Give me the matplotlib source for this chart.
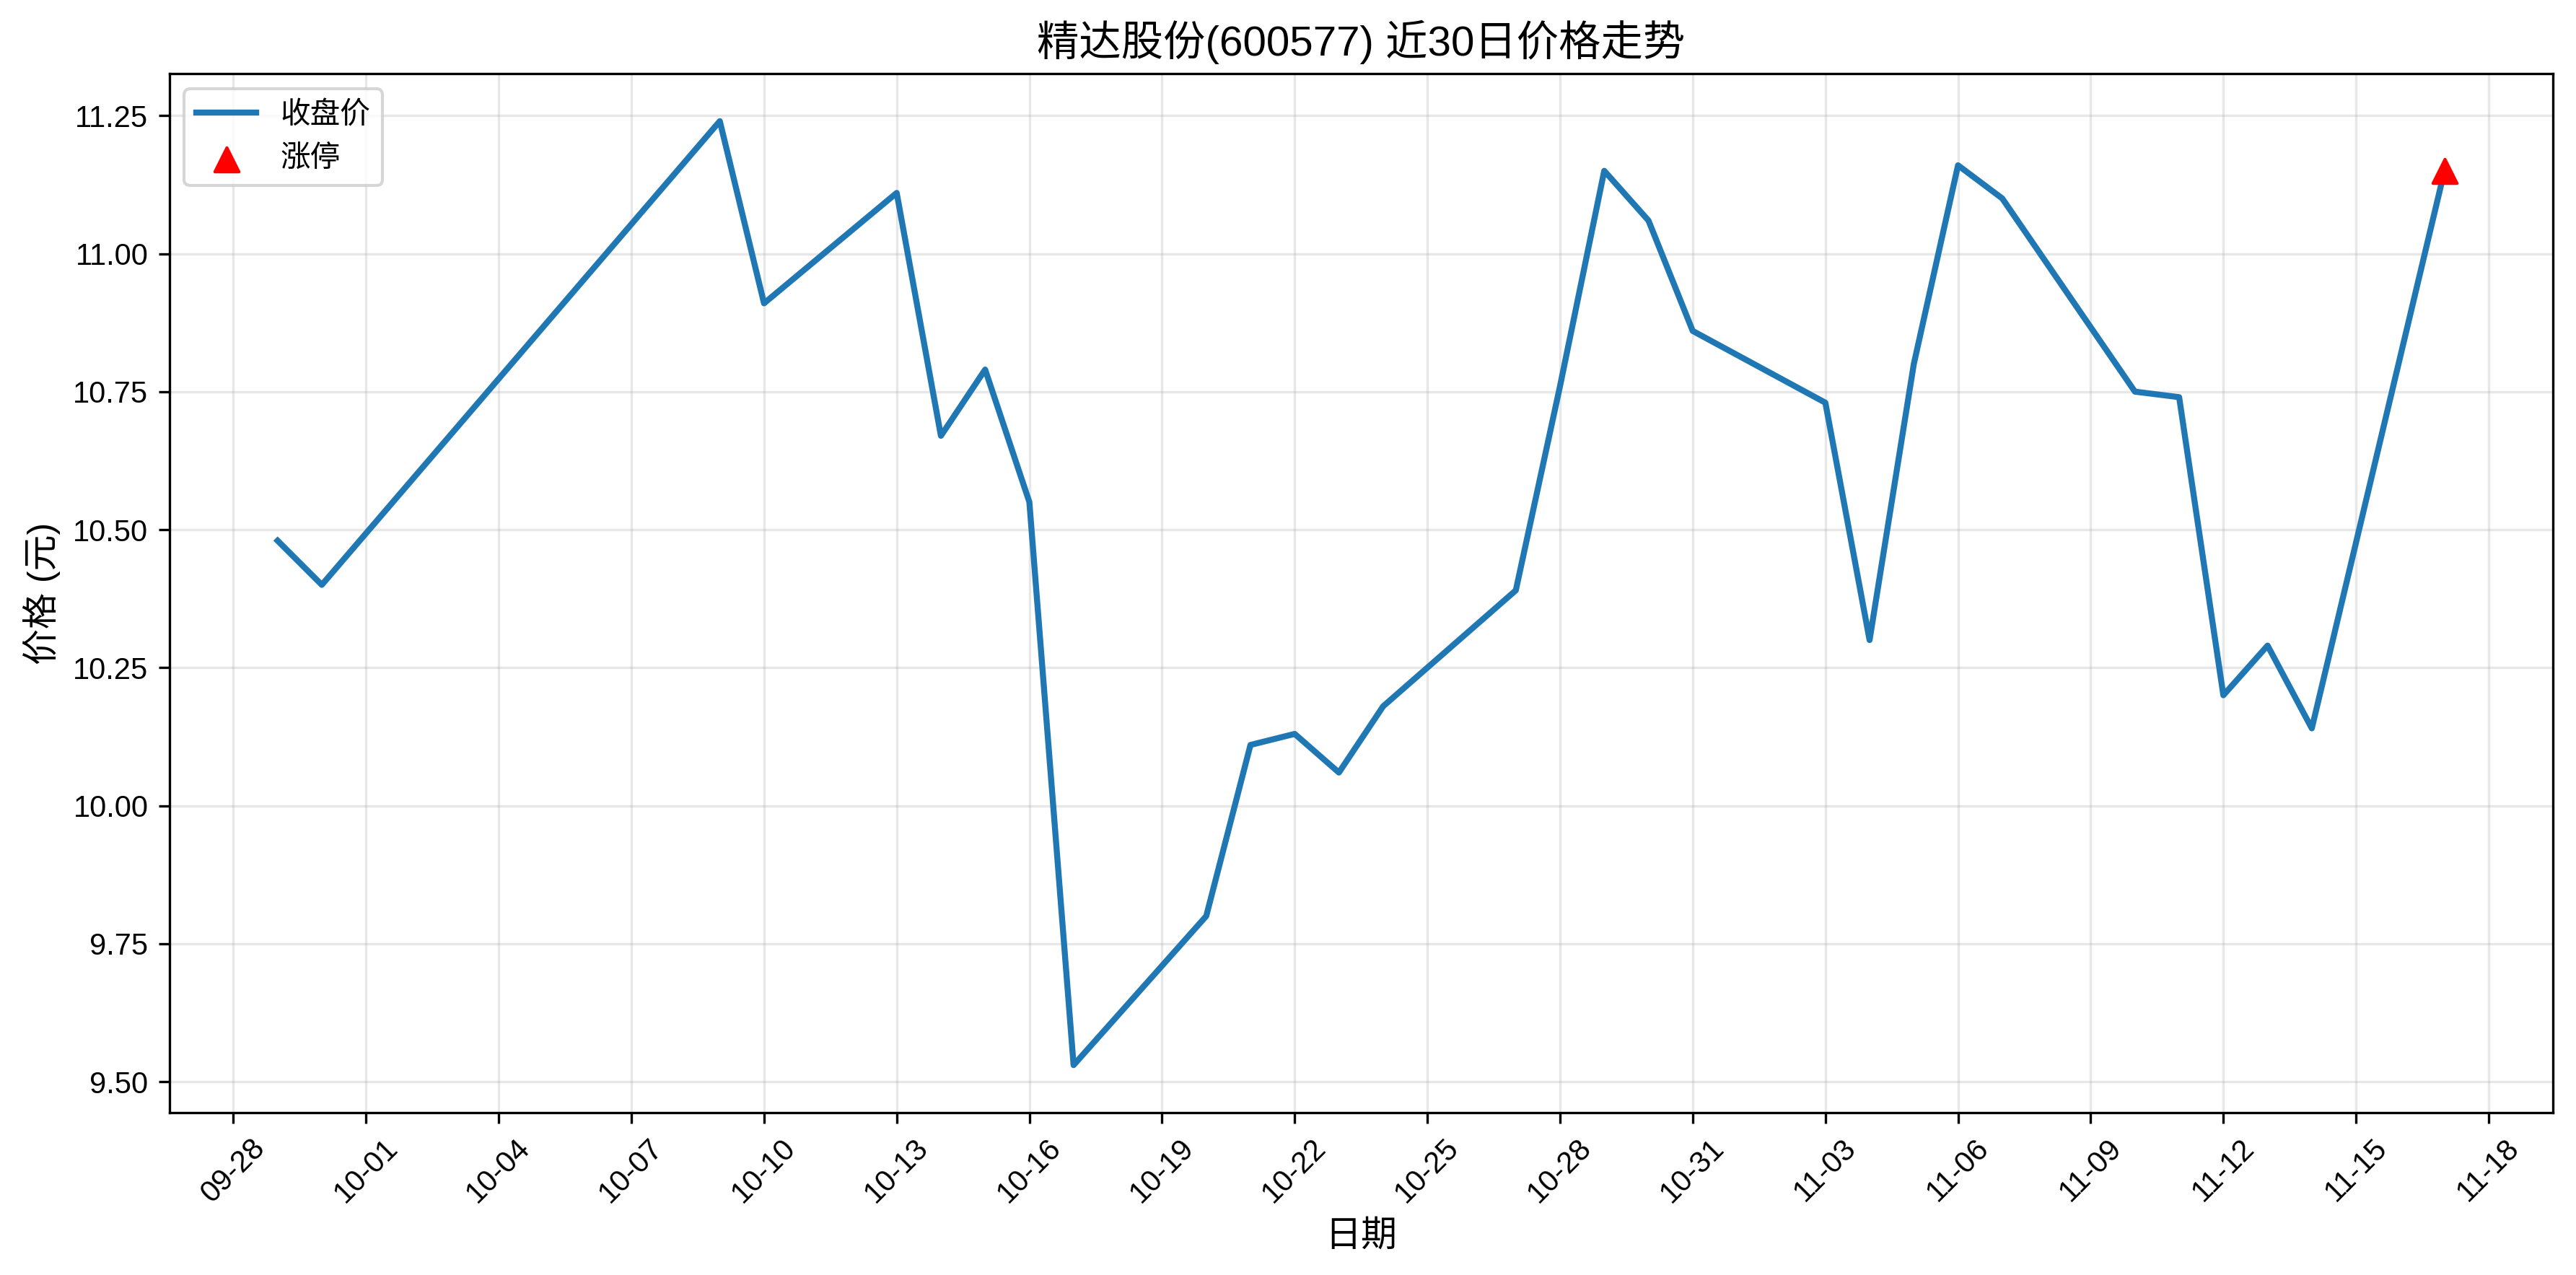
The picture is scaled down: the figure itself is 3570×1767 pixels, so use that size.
import matplotlib
matplotlib.use("Agg")
import matplotlib.pyplot as plt
import matplotlib.dates as mdates
import pandas as pd

plt.rcParams['font.family'] = ['Liberation Sans', 'Noto Sans CJK SC']
plt.rcParams['axes.unicode_minus'] = False

# 近30个交易日收盘价
dates = ["2025-09-29", "2025-09-30", "2025-10-09", "2025-10-10", "2025-10-13",
         "2025-10-14", "2025-10-15", "2025-10-16", "2025-10-17", "2025-10-20",
         "2025-10-21", "2025-10-22", "2025-10-23", "2025-10-24", "2025-10-27",
         "2025-10-28", "2025-10-29", "2025-10-30", "2025-10-31", "2025-11-03",
         "2025-11-04", "2025-11-05", "2025-11-06", "2025-11-07", "2025-11-10",
         "2025-11-11", "2025-11-12", "2025-11-13", "2025-11-14", "2025-11-17"]
close = [10.48, 10.40, 11.24, 10.91, 11.11,
         10.67, 10.79, 10.55, 9.53, 9.80,
         10.11, 10.13, 10.06, 10.18, 10.39,
         10.76, 11.15, 11.06, 10.86, 10.73,
         10.30, 10.80, 11.16, 11.10, 10.75,
         10.74, 10.20, 10.29, 10.14, 11.15]
limit_up_dates = ["2025-11-17"]
limit_up_close = [11.15]

x = pd.to_datetime(dates)
xu = pd.to_datetime(limit_up_dates)

fig = plt.figure(figsize=(11.9, 5.89), dpi=300)
ax = fig.add_axes([0.0657, 0.1276, 0.9253, 0.8144])

ax.plot(x, close, color='#1f77b4', linewidth=2, label='收盘价')
ax.scatter(xu, limit_up_close, marker='^', color='red', s=64, zorder=5, label='涨停')

ax.set_title('精达股份(600577) 近30日价格走势', fontsize=14)
ax.set_xlabel('日期', fontsize=12)
ax.set_ylabel('价格 (元)', fontsize=12)

ticks = pd.date_range("2025-09-28", "2025-11-18", freq="3D")
ax.set_xticks(ticks)
ax.xaxis.set_major_formatter(mdates.DateFormatter('%m-%d'))
plt.setp(ax.get_xticklabels(), rotation=45)
ax.tick_params(labelsize=10)
ax.grid(True, alpha=0.3)
ax.legend(loc='upper left', fontsize=10)

fig.savefig('out.png', dpi=300)
